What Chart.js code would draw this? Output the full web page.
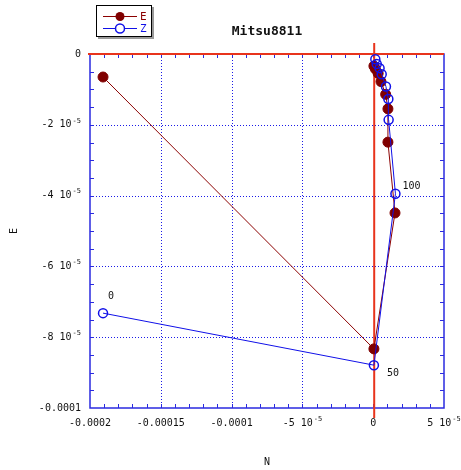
<!DOCTYPE html>
<html>
<head>
<meta charset="utf-8">
<script src="https://cdn.jsdelivr.net/npm/chart.js@4/dist/chart.umd.min.js"></script>
<style>
html,body{margin:0;padding:0;background:#fff;}
#c{display:block;}
</style>
</head>
<body>
<canvas id="c" width="461" height="470"></canvas>
<script>
// ---- data ----
const stepLabels = ['0', '50', '100', '', '', '', '', '', '', ''];
const eN = [-1.908e-4, 0.05e-5, 1.54e-5, 1.04e-5, 1.04e-5, 0.88e-5, 0.55e-5, 0.35e-5, 0.15e-5, 0.05e-5];
const eE = [-0.65e-5, -8.33e-5, -4.49e-5, -2.49e-5, -1.55e-5, -1.14e-5, -0.78e-5, -0.55e-5, -0.42e-5, -0.34e-5];
const zN = [-1.908e-4, 0.05e-5, 1.57e-5, 1.09e-5, 1.07e-5, 0.90e-5, 0.60e-5, 0.45e-5, 0.25e-5, 0.15e-5];
const zE = [-7.32e-5, -8.79e-5, -3.95e-5, -1.86e-5, -1.27e-5, -0.92e-5, -0.57e-5, -0.40e-5, -0.28e-5, -0.15e-5];

const xTickValues = [-0.0002, -0.00015, -0.0001, -5e-5, 0, 5e-5];
const xTickText   = ['-0.0002', '-0.00015', '-0.0001', '-5 10', '0', '5 10'];
const xTickExp    = ['', '', '', '-5', '', '-5'];
const yTickValues = [0, -2e-5, -4e-5, -6e-5, -8e-5, -0.0001];
const yTickText   = ['0', '-2 10', '-4 10', '-6 10', '-8 10', '-0.0001'];
const yTickExp    = ['', '-5', '-5', '-5', '-5', ''];
const xMinorStep = 1e-5;
const yMinorStep = 5e-6;

const titleText = 'Mitsu8811';
const xTitle = 'N';
const yTitle = 'E';

const toPts = (xs, ys) => xs.map((x, i) => ({x: x, y: ys[i]}));

const MONO = '"DejaVu Sans Mono", "Liberation Mono", monospace';
const RED = '#e8341c';
const FRAME = '#2a2ae0';

function drawLabel(ctx, txt, exp, x, y, align) {
  ctx.font = '10px ' + MONO;
  const w1 = ctx.measureText(txt).width;
  ctx.font = '7px ' + MONO;
  const w2 = exp ? ctx.measureText(exp).width + 1 : 0;
  const total = w1 + w2;
  let x0;
  if (align === 'right') x0 = x - total;
  else x0 = x - total / 2;
  ctx.textAlign = 'left';
  ctx.textBaseline = 'middle';
  ctx.font = '10px ' + MONO;
  ctx.fillText(txt, x0, y);
  if (exp) {
    ctx.font = '7px ' + MONO;
    ctx.fillText(exp, x0 + w1 + 1, y - 4);
  }
}

const framePlugin = {
  id: 'frame',
  beforeDatasetsDraw(chart) {
    const ctx = chart.ctx;
    const xs = chart.scales.x, ys = chart.scales.y;
    const a = chart.chartArea;
    ctx.save();
    // dotted grid at major ticks
    ctx.strokeStyle = '#1a1ae8';
    ctx.lineWidth = 1;
    ctx.setLineDash([1, 2]);
    xTickValues.forEach(v => {
      if (v === 0 || v === xs.min || v === xs.max) return;
      const px = Math.round(xs.getPixelForValue(v)) + 0.5;
      ctx.beginPath(); ctx.moveTo(px, a.top); ctx.lineTo(px, a.bottom); ctx.stroke();
    });
    yTickValues.forEach(v => {
      if (v === 0 || v === ys.min || v === ys.max) return;
      const py = Math.round(ys.getPixelForValue(v)) + 0.5;
      ctx.beginPath(); ctx.moveTo(a.left, py); ctx.lineTo(a.right, py); ctx.stroke();
    });
    ctx.setLineDash([]);
    // frame
    ctx.strokeStyle = FRAME;
    ctx.lineWidth = 1.5;
    ctx.strokeRect(a.left, a.top, a.right - a.left, a.bottom - a.top);
    // minor ticks inside
    ctx.lineWidth = 1;
    const tl = 4;
    const nx = Math.round((xs.max - xs.min) / xMinorStep);
    for (let i = 1; i < nx; i++) {
      const px = Math.round(xs.getPixelForValue(xs.min + i * xMinorStep)) + 0.5;
      ctx.beginPath();
      ctx.moveTo(px, a.bottom); ctx.lineTo(px, a.bottom - tl);
      ctx.moveTo(px, a.top); ctx.lineTo(px, a.top + tl);
      ctx.stroke();
    }
    const ny = Math.round((ys.max - ys.min) / yMinorStep);
    for (let i = 1; i < ny; i++) {
      const py = Math.round(ys.getPixelForValue(ys.min + i * yMinorStep)) + 0.5;
      ctx.beginPath();
      ctx.moveTo(a.left, py); ctx.lineTo(a.left + tl, py);
      ctx.moveTo(a.right, py); ctx.lineTo(a.right - tl, py);
      ctx.stroke();
    }
    // red zero axes
    ctx.strokeStyle = RED;
    ctx.lineWidth = 2;
    const x0 = xs.getPixelForValue(0) + 1;
    const y0 = ys.getPixelForValue(0);
    ctx.beginPath(); ctx.moveTo(a.left - 2, y0); ctx.lineTo(a.right, y0); ctx.stroke();
    ctx.beginPath(); ctx.moveTo(x0, a.top - 11); ctx.lineTo(x0, a.bottom + 10); ctx.stroke();
    ctx.restore();
  },
  afterDraw(chart) {
    const ctx = chart.ctx;
    const xs = chart.scales.x, ys = chart.scales.y;
    const a = chart.chartArea;
    ctx.save();
    ctx.fillStyle = '#111';
    // tick labels
    xTickValues.forEach((v, i) => {
      drawLabel(ctx, xTickText[i], xTickExp[i], xs.getPixelForValue(v), a.bottom + 15, 'center');
    });
    yTickValues.forEach((v, i) => {
      drawLabel(ctx, yTickText[i], yTickExp[i], a.left - 9, ys.getPixelForValue(v), 'right');
    });
    // axis titles
    ctx.font = '10px ' + MONO;
    ctx.textAlign = 'center';
    ctx.textBaseline = 'middle';
    ctx.fillText(xTitle, (a.left + a.right) / 2, 462);
    ctx.save();
    ctx.translate(14, (a.top + a.bottom) / 2);
    ctx.rotate(-Math.PI / 2);
    ctx.fillText(yTitle, 0, 0);
    ctx.restore();
    // title
    ctx.font = 'bold 13px ' + MONO;
    ctx.fillText(titleText, (a.left + a.right) / 2, 32);
    // step labels next to Z points
    const meta = chart.getDatasetMeta(1);
    const offs = [[8, -17], [19, 8], [16, -7]];
    ctx.font = '10px ' + MONO;
    stepLabels.forEach((s, i) => {
      if (!s) return;
      const p = meta.data[i];
      const o = offs[i] || [10, -10];
      ctx.fillText(s, p.x + o[0], p.y + o[1]);
    });
    // legend box
    const bx = 96, by = 5, bw = 56, bh = 32;
    ctx.fillStyle = '#9a9a9a';
    ctx.fillRect(bx + 2, by + bh, bw, 2);
    ctx.fillRect(bx + bw, by + 2, 2, bh);
    ctx.fillStyle = '#fff';
    ctx.fillRect(bx, by, bw, bh);
    ctx.strokeStyle = '#000';
    ctx.lineWidth = 1;
    ctx.strokeRect(bx + 0.5, by + 0.5, bw - 1, bh - 1);
    const ds = chart.data.datasets;
    [0, 1].forEach(k => {
      const d = ds[k];
      const ly = by + 11 + k * 12;
      ctx.strokeStyle = d.borderColor;
      ctx.lineWidth = 1;
      ctx.beginPath(); ctx.moveTo(bx + 7, ly + 0.5); ctx.lineTo(bx + 41, ly + 0.5); ctx.stroke();
      ctx.beginPath(); ctx.arc(bx + 24, ly + 0.5, 4.5, 0, Math.PI * 2);
      if (k === 0) { ctx.fillStyle = d.pointBackgroundColor; ctx.fill(); }
      else { ctx.fillStyle = '#fff'; ctx.fill(); ctx.lineWidth = 1.5; ctx.stroke(); }
      ctx.fillStyle = d.borderColor;
      ctx.font = '11px ' + MONO;
      ctx.textAlign = 'left';
      ctx.fillText(d.label, bx + 44, ly + 1);
    });
    ctx.restore();
  }
};

new Chart(document.getElementById('c'), {
  type: 'scatter',
  data: {
    datasets: [
      {
        label: 'E',
        data: toPts(eN, eE),
        showLine: true,
        borderColor: '#8b0000',
        borderWidth: 1,
        pointRadius: 5,
        pointBackgroundColor: '#800000',
        pointBorderColor: '#800000',
        pointBorderWidth: 1,
        order: 2
      },
      {
        label: 'Z',
        data: toPts(zN, zE),
        showLine: true,
        borderColor: '#1010e8',
        borderWidth: 1,
        pointRadius: 4.5,
        pointBackgroundColor: 'rgba(255,255,255,0)',
        pointBorderColor: '#1010e8',
        pointBorderWidth: 1.5,
        order: 1
      }
    ]
  },
  options: {
    responsive: false,
    animation: false,
    events: [],
    layout: { padding: { left: 90, right: 17, top: 54, bottom: 62 } },
    plugins: { legend: { display: false }, tooltip: { enabled: false }, title: { display: false } },
    scales: {
      x: { type: 'linear', display: false, min: -0.0002, max: 5e-5 },
      y: { type: 'linear', display: false, min: -0.0001, max: 0 }
    }
  },
  plugins: [framePlugin]
});
</script>
</body>
</html>
